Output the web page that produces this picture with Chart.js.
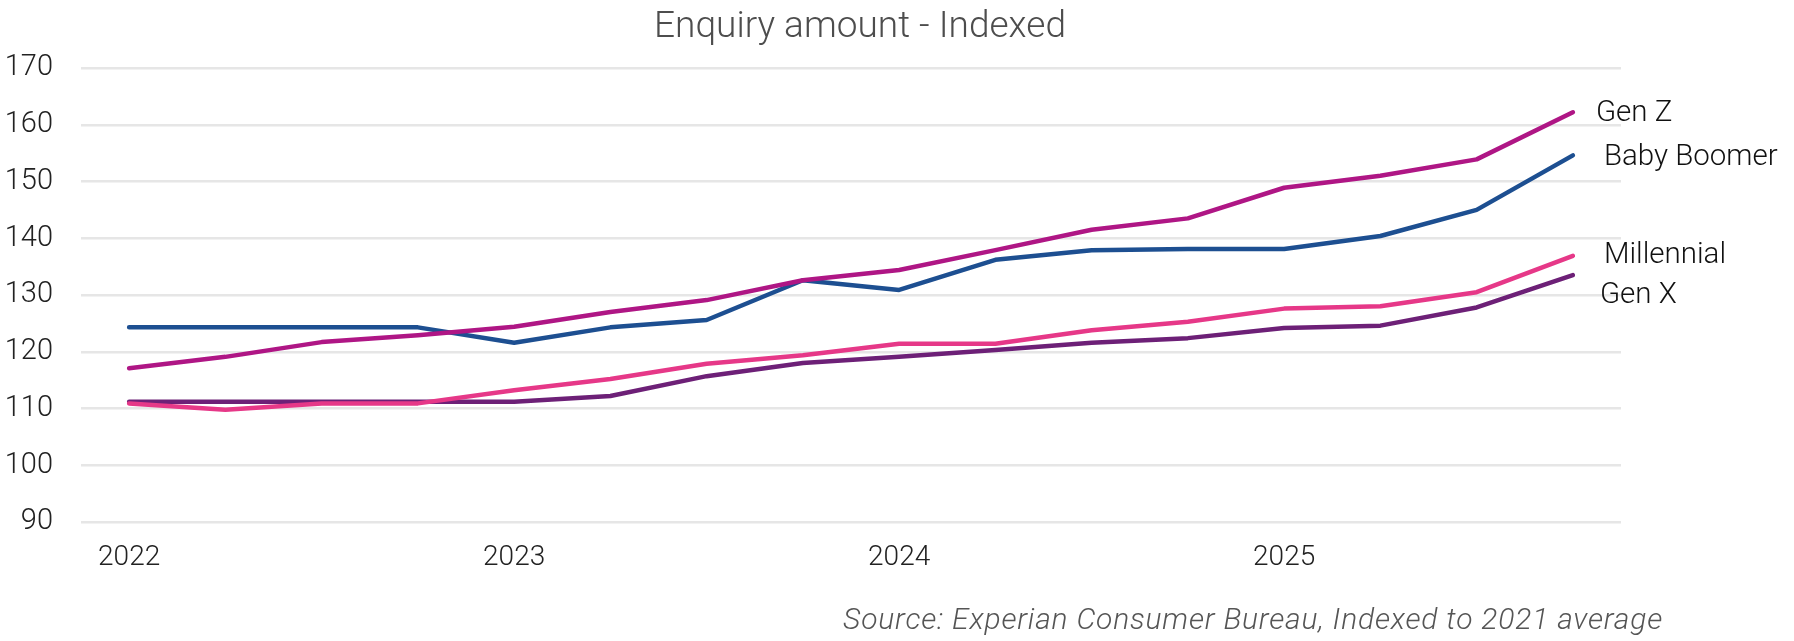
<!DOCTYPE html>
<html>
<head>
<meta charset="utf-8">
<title>Enquiry amount - Indexed</title>
<script src="https://cdn.jsdelivr.net/npm/chart.js@4.4.0/dist/chart.umd.min.js"></script>
<style>
    html, body { margin: 0; padding: 0; background: #fff; }
    #wrap { width: 1794px; height: 641px; position: relative; }
</style>
</head>
<body>
<div id="wrap"><canvas id="enquiryChart"></canvas></div>
<script>
// Quarterly enquiry amount, indexed to 2021 average
const quarters = [
    '2022 Q1', '2022 Q2', '2022 Q3', '2022 Q4',
    '2023 Q1', '2023 Q2', '2023 Q3', '2023 Q4',
    '2024 Q1', '2024 Q2', '2024 Q3', '2024 Q4',
    '2025 Q1', '2025 Q2', '2025 Q3', '2025 Q4'
];

const genZ        = [117.1, 119.1, 121.7, 122.9, 124.4, 127.0, 129.1, 132.6, 134.4, 137.9, 141.5, 143.5, 148.9, 151.0, 153.9, 162.2];
const babyBoomer  = [124.3, 124.3, 124.3, 124.3, 121.6, 124.3, 125.6, 132.6, 130.9, 136.2, 137.9, 138.1, 138.1, 140.4, 145.0, 154.6];
const millennial  = [110.9, 109.8, 110.9, 110.9, 113.2, 115.2, 117.9, 119.4, 121.4, 121.4, 123.8, 125.3, 127.6, 128.0, 130.5, 136.9];
const genX        = [111.2, 111.2, 111.2, 111.2, 111.2, 112.2, 115.7, 118.0, 119.1, 120.3, 121.6, 122.4, 124.2, 124.6, 127.8, 133.5];

const yTicks = [90, 100, 110, 120, 130, 140, 150, 160, 170];

const seriesNames  = ['Gen Z', 'Baby Boomer', 'Millennial', 'Gen X'];
const seriesColors = ['#AF1685', '#1D4F91', '#E63888', '#6D2077'];

// end label nudges (px) relative to the last point
const labelOffsets = [[23, 1], [31, 2], [31, 0], [27, 20]];

const FONT = 'Roboto, "Noto Sans", "DejaVu Sans", sans-serif';

// Draws title, end-of-line labels and source note
const annotations = {
    id: 'annotations',
    afterDatasetsDraw(chart) {
        const ctx = chart.ctx;
        const area = chart.chartArea;
        ctx.save();

        // title
        ctx.fillStyle = '#4d4d4d';
        ctx.font = '300 37px ' + FONT;
        ctx.textAlign = 'center';
        ctx.textBaseline = 'alphabetic';
        ctx.fillText('Enquiry amount - Indexed', (area.left + area.right) / 2 + 9, 37);

        // labels at the end of each line
        ctx.fillStyle = '#111';
        ctx.font = '300 29.5px ' + FONT;
        ctx.textAlign = 'left';
        ctx.textBaseline = 'middle';
        chart.data.datasets.forEach(function(ds, i) {
            const pts = chart.getDatasetMeta(i).data;
            const last = pts[pts.length - 1];
            ctx.fillText(ds.label, last.x + labelOffsets[i][0], last.y + labelOffsets[i][1]);
        });

        // source note
        ctx.fillStyle = '#555';
        ctx.font = 'italic 300 30px ' + FONT;
        ctx.letterSpacing = '0.8px';
        ctx.textAlign = 'right';
        ctx.textBaseline = 'alphabetic';
        ctx.fillText('Source: Experian Consumer Bureau, Indexed to 2021 average', 1663, 629);

        ctx.restore();
    }
};

function buildDatasets() {
    const values = [genZ, babyBoomer, millennial, genX];
    return values.map(function(v, i) {
        return {
            label: seriesNames[i],
            data: v,
            borderColor: seriesColors[i],
            backgroundColor: seriesColors[i],
            borderWidth: 4.5,
            borderCapStyle: 'round',
            borderJoinStyle: 'round',
            pointRadius: 0,
            tension: 0,
            fill: false
        };
    });
}

document.addEventListener('DOMContentLoaded', function() {
    const ctx = document.getElementById('enquiryChart');

    new Chart(ctx, {
        type: 'line',
        data: {
            labels: quarters,
            datasets: buildDatasets()
        },
        options: {
            responsive: true,
            maintainAspectRatio: false,
            animation: false,
            layout: {
                padding: { left: 0, right: 173, top: 68, bottom: 69 }
            },
            plugins: {
                legend: { display: false },
                title: { display: false },
                tooltip: { enabled: false }
            },
            scales: {
                x: {
                    offset: true,
                    grid: { display: false, drawTicks: false },
                    border: { display: false },
                    ticks: {
                        autoSkip: false,
                        maxRotation: 0,
                        padding: 19,
                        color: '#222',
                        font: { family: FONT, size: 28, weight: 300 },
                        callback: function(value) {
                            const lab = this.getLabelForValue(value);
                            return lab.endsWith('Q1') ? lab.slice(0, 4) : '';
                        }
                    },
                    afterFit: function(scale) { scale.height = 50; }
                },
                y: {
                    min: 90,
                    max: 170,
                    afterBuildTicks: function(scale) {
                        scale.ticks = yTicks.map(function(v) { return { value: v }; });
                    },
                    grid: {
                        color: '#e6e6e6',
                        lineWidth: 2.5,
                        drawTicks: false
                    },
                    border: { display: false },
                    ticks: {
                        padding: 28,
                        color: '#222',
                        font: { family: FONT, size: 29, weight: 300 }
                    },
                    afterFit: function(scale) { scale.width = 81; }
                }
            }
        },
        plugins: [annotations]
    });
});
</script>
</body>
</html>
